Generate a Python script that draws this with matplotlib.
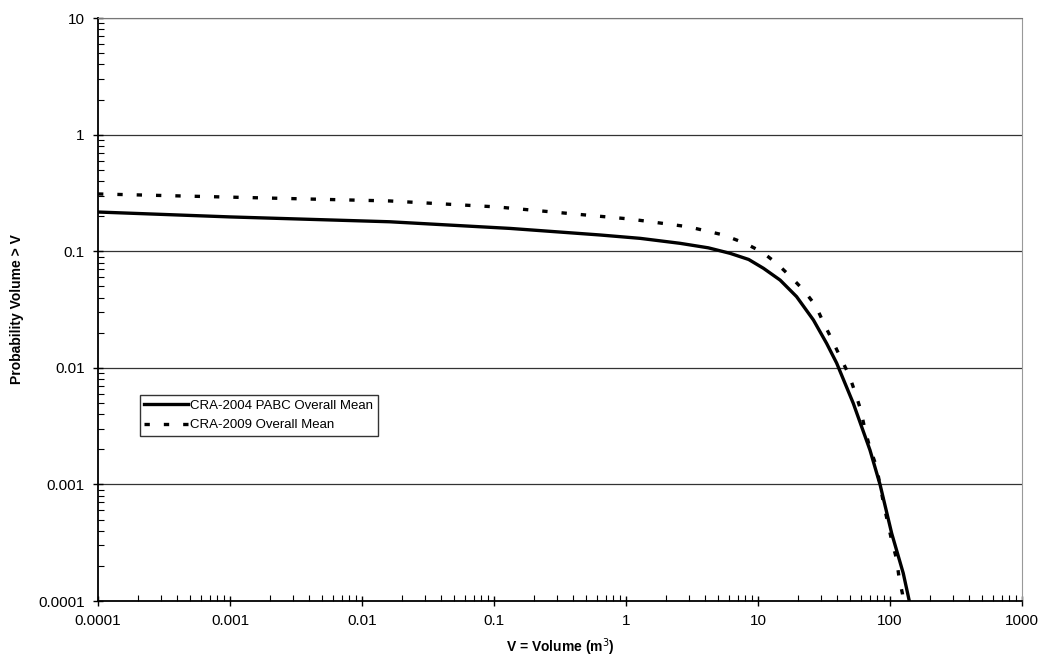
import matplotlib
matplotlib.use('Agg')
import matplotlib.pyplot as plt
from matplotlib.ticker import LogLocator, FixedLocator, FixedFormatter

plt.rcParams['font.family'] = ['Liberation Sans', 'DejaVu Sans']

# CRA-2004 PABC overall mean
vol_2004 = [1e-4, 1e-3, 0.0162, 0.132, 0.63, 1.28, 2.56, 4.2, 6.14, 8.5, 11.0, 14.7, 19.6, 26.3, 33.1,
            39.4, 52.7, 70.5, 84, 103, 126, 140]
prob_2004 = [0.217, 0.197, 0.179, 0.157, 0.138, 0.129, 0.117, 0.107, 0.096, 0.085, 0.0714, 0.0566, 0.0408,
             0.0257, 0.0162, 0.011, 0.00496, 0.00197, 0.001, 3.8e-4, 1.73e-4, 1e-4]

# CRA-2009 overall mean
vol_2009 = [1e-4, 0.0162, 0.105, 1.07, 2.98, 5.46, 8.0, 10.8, 13.9, 17.8, 22.3, 27.4, 31.5, 36.3, 41.8,
            48.9, 54.3, 60, 64.6, 70.5, 79, 90, 103, 112, 117, 124.5, 126]
prob_2009 = [0.31, 0.27, 0.24, 0.189, 0.162, 0.138, 0.117, 0.098, 0.0785, 0.06, 0.046, 0.034, 0.0241, 0.0175,
             0.0125, 0.0087, 0.0062, 0.00435, 0.00295, 0.00205, 0.00142, 6.6e-4, 3.3e-4, 2.3e-4, 1.6e-4,
             1.14e-4, 1e-4]

x_ticks = [1e-4, 1e-3, 1e-2, 0.1, 1, 10, 100, 1000]
x_labels = ['0.0001', '0.001', '0.01', '0.1', '1', '10', '100', '1000']
y_ticks = [1e-4, 1e-3, 1e-2, 0.1, 1, 10]
y_labels = ['0.0001', '0.001', '0.01', '0.1', '1', '10']

fig = plt.figure(figsize=(10.45, 6.69), dpi=100)
ax = fig.add_axes([0.0938, 0.1016, 0.8842, 0.8714])

ax.set_xscale('log')
ax.set_yscale('log')
ax.set_xlim(1e-4, 1000)
ax.set_ylim(1e-4, 10)

for y in y_ticks[1:]:
    ax.axhline(y, color='#333333', lw=0.9, zorder=1)

ax.plot(vol_2004, prob_2004, color='black', lw=2.4, label='CRA-2004 PABC Overall Mean', zorder=3)
ax.plot(vol_2009, prob_2009, color='black', lw=2.4, dashes=(1.6, 4.2), label='CRA-2009 Overall Mean', zorder=3)

ax.xaxis.set_major_locator(FixedLocator(x_ticks))
ax.xaxis.set_major_formatter(FixedFormatter(x_labels))
ax.yaxis.set_major_locator(FixedLocator(y_ticks))
ax.yaxis.set_major_formatter(FixedFormatter(y_labels))
ax.xaxis.set_minor_locator(LogLocator(base=10, subs=range(2, 10), numticks=20))
ax.yaxis.set_minor_locator(LogLocator(base=10, subs=range(2, 10), numticks=20))
ax.xaxis.set_minor_formatter(plt.NullFormatter())
ax.yaxis.set_minor_formatter(plt.NullFormatter())

ax.tick_params(which='major', direction='inout', length=7, width=1, labelsize=11, pad=6)
ax.tick_params(which='minor', direction='in', length=4, width=0.8)
ax.tick_params(top=False, right=False, which='both')

ax.spines['left'].set_linewidth(1.3)
ax.spines['bottom'].set_linewidth(1.3)
ax.spines['top'].set_color('#777777')
ax.spines['top'].set_linewidth(0.8)
ax.spines['right'].set_color('#999999')
ax.spines['right'].set_linewidth(0.8)
ax.spines['right'].set_linestyle((0, (2, 1)))

ax.set_xlabel('V = Volume (m$^3$)', fontsize=10, fontweight='bold', labelpad=6)
ax.set_ylabel('Probability Volume > V', fontsize=10, fontweight='bold', labelpad=10)

leg = ax.legend(loc='lower left', bbox_to_anchor=(0.045, 0.283), fontsize=9.5, frameon=True,
                fancybox=False, edgecolor='black', handlelength=3.3, handletextpad=0.2,
                borderpad=0.35, labelspacing=0.55, borderaxespad=0)
leg.get_frame().set_linewidth(1.0)

fig.savefig('out.png', dpi=100, facecolor='white')
